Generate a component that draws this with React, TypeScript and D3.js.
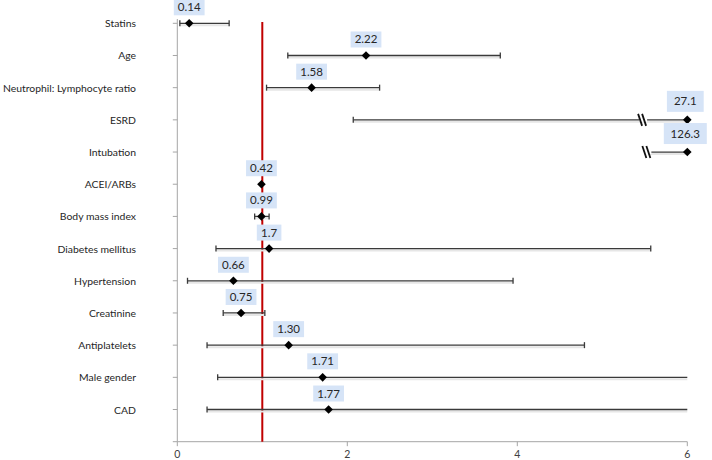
import React from "react";
import * as d3 from "d3";

const categories = [
  "Statins", "Age", "Neutrophil: Lymphocyte ratio", "ESRD", "Intubation",
  "ACEI/ARBs", "Body mass index", "Diabetes mellitus", "Hypertension",
  "Creatinine", "Antiplatelets", "Male gender", "CAD",
];
const valueLabels = ["0.14", "2.22", "1.58", "27.1", "126.3", "0.42", "0.99", "1.7", "0.66", "0.75", "1.30", "1.71", "1.77"];
const pointValues = [0.14, 2.22, 1.58, 6, 6, 0.99, 0.99, 1.08, 0.66, 0.75, 1.31, 1.71, 1.78];
const lowerValues = [0.03, 1.3, 1.05, 2.07, 5.54, 0.99, 0.91, 0.455, 0.12, 0.54, 0.35, 0.475, 0.35];
const upperValues = [0.61, 3.8, 2.38, 6, 6, 0.99, 1.08, 5.57, 3.95, 1.03, 4.79, 6, 6];
const lowerCap = [true, true, true, true, false, false, true, true, true, true, true, true, true];
const upperCap = [true, true, true, false, false, false, true, true, true, true, true, false, false];
const breakAt: (number | null)[] = [null, null, null, 5.48, 5.53, null, null, null, null, null, null, null, null];
const xTicks = [0, 2, 4, 6];
const refValue = 1;

const W = 712;
const H = 460;
const FONT = "Lato, 'Open Sans', sans-serif";

export default function App() {
  const x = d3.scaleLinear().domain([0, 6]).range([177.3, 687.3]);
  const n = categories.length;
  const y = d3.scaleLinear().domain([0, n]).range([441.7, 23.3]);
  const rowY = (i: number) => y(n - i);
  const axisY = y(0);
  const axisX = x(0);
  const lineColor = "#3a3a3a";
  const axisColor = "#a6a6a6";

  return (
    <svg width={W} height={H} style={{ position: "absolute", left: 0, top: 0, background: "#fff" }} fontFamily={FONT}>
      {/* y axis */}
      <line x1={axisX} x2={axisX} y1={19} y2={axisY} stroke={axisColor} strokeWidth={1} />
      {categories.map((c, i) => (
        <line key={"yt" + i} x1={axisX - 4.5} x2={axisX} y1={rowY(i)} y2={rowY(i)} stroke={axisColor} strokeWidth={1} />
      ))}
      <line x1={axisX - 4.5} x2={axisX} y1={axisY} y2={axisY} stroke={axisColor} strokeWidth={1} />
      {/* x axis */}
      <line x1={axisX} x2={x(6)} y1={axisY} y2={axisY} stroke={axisColor} strokeWidth={1} />
      {xTicks.map((t) => (
        <g key={"xt" + t}>
          <line x1={x(t)} x2={x(t)} y1={axisY} y2={axisY + 4.5} stroke={axisColor} strokeWidth={1} />
          <text x={x(t)} y={axisY + 16.3} textAnchor="middle" fontSize={10.5} fill="#404040">{t}</text>
        </g>
      ))}
      {/* category labels */}
      {categories.map((c, i) => (
        <text key={"cl" + i} x={136} y={rowY(i) + 4} textAnchor="end" fontSize={10.4} fill="#262626">{c}</text>
      ))}
      {/* reference line */}
      <line x1={x(refValue)} x2={x(refValue)} y1={22} y2={axisY} stroke="#c00000" strokeWidth={2} />
      {/* whiskers */}
      {categories.map((c, i) => {
        const yy = rowY(i);
        const lo = x(lowerValues[i]);
        const hi = x(upperValues[i]);
        const br = breakAt[i];
        return (
          <g key={"w" + i}>
            {hi > lo && (
              <>
                <line x1={lo} x2={hi} y1={yy + 2} y2={yy + 2} stroke="#e6e6e6" strokeWidth={2} />
                <line x1={lo} x2={hi} y1={yy} y2={yy} stroke={lineColor} strokeWidth={1.3} />
              </>
            )}
            {lowerCap[i] && hi > lo && (
              <line x1={lo} x2={lo} y1={yy - 3} y2={yy + 3} stroke={lineColor} strokeWidth={1.3} />
            )}
            {upperCap[i] && hi > lo && (
              <line x1={hi} x2={hi} y1={yy - 3} y2={yy + 3} stroke={lineColor} strokeWidth={1.3} />
            )}
            {br !== null && (
              <g>
                <rect x={x(br) - 4} y={yy - 2} width={8} height={4} fill="#fff" />
                <line x1={x(br) - 5} x2={x(br) - 1} y1={yy - 6} y2={yy + 6} stroke="#111" strokeWidth={1.8} />
                <line x1={x(br) - 1} x2={x(br) + 3} y1={yy - 6} y2={yy + 6} stroke="#111" strokeWidth={1.8} />
              </g>
            )}
          </g>
        );
      })}
      {/* points */}
      {pointValues.map((v, i) => {
        const cx = x(v);
        const cy = rowY(i);
        const s = 4.3;
        return (
          <path key={"p" + i} d={`M${cx},${cy - s}L${cx + s},${cy}L${cx},${cy + s}L${cx - s},${cy}Z`} fill="#000" />
        );
      })}
      {/* value labels */}
      {valueLabels.map((lab, i) => {
        const cx = x(pointValues[i]);
        const cy = rowY(i);
        const big = lab.length > 4 || pointValues[i] >= 6;
        const w = lab.length * 6.2 + (big ? 12 : 6);
        const h = big ? 21 : 16;
        const bottom = cy - 8;
        const bx = big ? Math.min(cx - w / 2 - 2, W - w - 1) : cx - w / 2;
        return (
          <g key={"l" + i}>
            <rect x={bx} y={bottom - h} width={w} height={h} fill="#d6e4f7" />
            <text x={bx + w / 2} y={bottom - h / 2 + 4} textAnchor="middle" fontSize={11.5} fill="#262626">{lab}</text>
          </g>
        );
      })}
    </svg>
  );
}
